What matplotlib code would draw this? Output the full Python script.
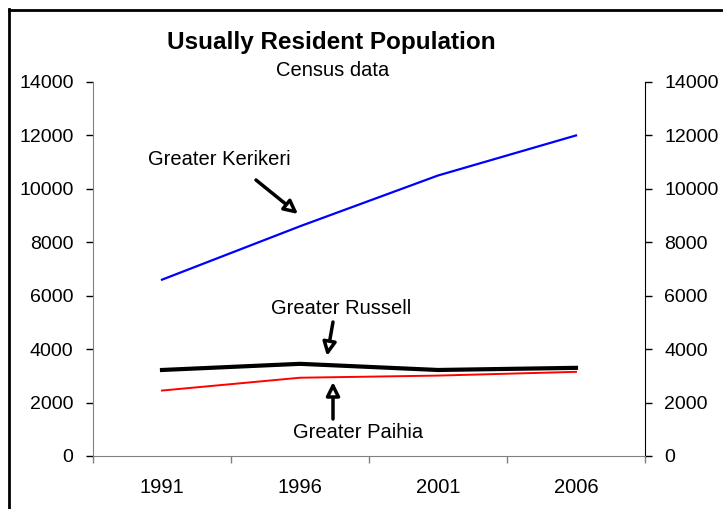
import matplotlib
matplotlib.use('Agg')
from matplotlib import pyplot as plt
from matplotlib.lines import Line2D

plt.rcParams['font.family'] = ['Liberation Sans', 'DejaVu Sans']

years = ['1991', '1996', '2001', '2006']
kerikeri = [6600, 8600, 10500, 12000]
russell = [3220, 3450, 3220, 3300]
paihia = [2450, 2930, 3010, 3150]

W, H = 723, 509


def px(x, y):
    # pixel position (from top-left) to figure fraction
    return (x / W, 1 - y / H)


fig = plt.figure(figsize=(W / 100, H / 100), dpi=100)
ax = fig.add_axes([93 / W, 53 / H, 552 / W, 374 / H])

xs = list(range(len(years)))
ax.plot(xs, kerikeri, color='#0000ff', lw=1.6, solid_joinstyle='round')
ax.plot(xs, russell, color='black', lw=3.0, solid_joinstyle='round')
ax.plot(xs, paihia, color='#ff0000', lw=1.4, solid_joinstyle='round')

ax.set_xlim(-0.5, len(years) - 0.5)
ax.set_ylim(0, 14000)
ax.set_yticks(range(0, 14001, 2000))

# category boundaries get the tick marks, labels sit in between
ax.set_xticks([i - 0.5 for i in range(len(years) + 1)])
ax.set_xticklabels([])
ax.set_xticks(xs, minor=True)
ax.set_xticklabels(years, minor=True)
ax.tick_params(axis='x', which='major', direction='out', length=5, width=1, color='#808080')
ax.tick_params(axis='x', which='minor', length=0, pad=16, labelsize=14.5)
ax.tick_params(axis='y', direction='out', length=5, width=1, labelsize=14,
               left=True, right=True, labelleft=True, labelright=True, pad=9)

ax.spines['top'].set_visible(False)
ax.spines['left'].set_color('#808080')
ax.spines['bottom'].set_color('#808080')
ax.spines['right'].set_color('black')

fig.text(*px(331, 42), 'Usually Resident Population', ha='center', va='center',
         fontsize=17.5, fontweight='bold')
fig.text(*px(333, 70), 'Census data', ha='center', va='center', fontsize=14.5)

arrow = dict(arrowstyle='-|>,head_length=0.8,head_width=0.4', lw=2.5,
             ec='black', fc='white', shrinkA=0, shrinkB=0)
ax.annotate('', xy=px(298, 214), xytext=px(256, 180),
            xycoords='figure fraction', textcoords='figure fraction', arrowprops=arrow)
ax.annotate('', xy=px(327, 356), xytext=px(333, 322),
            xycoords='figure fraction', textcoords='figure fraction', arrowprops=arrow)
ax.annotate('', xy=px(333, 382), xytext=px(333, 419),
            xycoords='figure fraction', textcoords='figure fraction', arrowprops=arrow)

fig.text(*px(219, 160), 'Greater Kerikeri', ha='center', va='center', fontsize=14.5)
fig.text(*px(341, 308), 'Greater Russell', ha='center', va='center', fontsize=14.5)
fig.text(*px(358, 433), 'Greater Paihia', ha='center', va='center', fontsize=14.5)

# outer frame, open at right and bottom
fig.add_artist(Line2D([8.5 / W, 8.5 / W], [0, 1 - 9 / H], color='black', lw=2,
                      transform=fig.transFigure))
fig.add_artist(Line2D([8.5 / W, 1], [1 - 9.5 / H, 1 - 9.5 / H], color='black', lw=2,
                      transform=fig.transFigure))

fig.savefig('out.png', dpi=100)
